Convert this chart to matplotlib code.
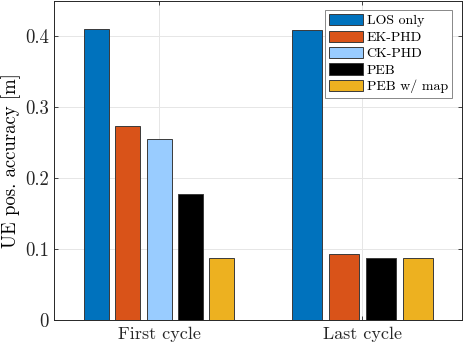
import matplotlib
matplotlib.use("Agg")
import matplotlib.pyplot as plt
import numpy as np

groups = ["First cycle", "Last cycle"]
methods = ["LOS only", "EK-PHD", "CK-PHD", "PEB", "PEB w/ map"]
colors = ["#0072BD", "#D95319", "#99CCFF", "#000000", "#EDB120"]
first_cycle = [0.411, 0.273, 0.255, 0.178, 0.087]
# Last cycle has no CK-PHD bar
last_methods = ["LOS only", "EK-PHD", "PEB", "PEB w/ map"]
last_cycle = [0.409, 0.093, 0.088, 0.087]

plt.rcParams["font.family"] = ["cmr10", "DejaVu Serif"]
plt.rcParams["axes.formatter.use_mathtext"] = True

fig = plt.figure(figsize=(4.63, 3.46), dpi=100)
ax = fig.add_axes([0.1166, 0.0751, 0.8814, 0.922])

def draw_group(center, vals, names):
    n = len(vals)
    gw = min(0.8, n / (n + 1.5))
    step = gw / n
    w = 0.8 * step
    for i, (v, nm) in enumerate(zip(vals, names)):
        x = center + (i - (n - 1) / 2) * step
        ax.bar(x, v, width=w, color=colors[methods.index(nm)],
               edgecolor="#3a3a3a", linewidth=0.7, zorder=3,
               label=nm if center == 1 else None)

draw_group(1, first_cycle, methods)
draw_group(2, last_cycle, last_methods)

ax.set_xlim(0.483, 2.49)
ax.set_ylim(0, 0.45)
ax.set_xticks([1, 2])
ax.set_xticklabels(groups, fontsize=13)
ax.set_yticks([0, 0.1, 0.2, 0.3, 0.4])
ax.set_yticklabels(["0", "0.1", "0.2", "0.3", "0.4"], fontsize=13.5)
ax.set_ylabel("UE pos. accuracy [m]", fontsize=13.5, labelpad=3)
ax.grid(True, color="#e6e6e6", linewidth=0.7, zorder=0)
ax.tick_params(direction="in", top=True, right=True, length=3, width=0.6,
               colors="#262626", labelcolor="#262626")
ax.tick_params(axis="x", pad=5)
for s in ax.spines.values():
    s.set_color("#262626")
    s.set_linewidth(0.7)

leg = ax.legend(loc="upper right", bbox_to_anchor=(0.975, 0.972),
                borderaxespad=0, fontsize=10, fancybox=False,
                framealpha=1, edgecolor="#888888",
                handlelength=2.45, handleheight=0.86, labelspacing=0.22,
                handletextpad=0.25, borderpad=0.3)
leg.get_frame().set_linewidth(0.7)

fig.savefig("out.png", dpi=100)
